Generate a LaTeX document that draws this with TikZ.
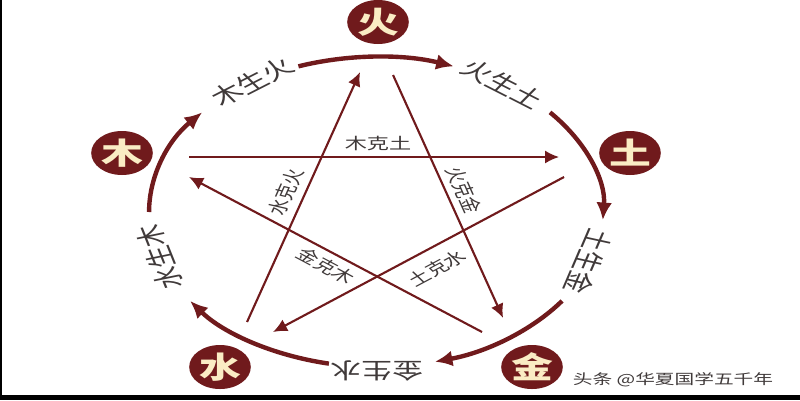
\documentclass[tikz,border=0pt]{standalone}
\usepackage{fontspec}
\newfontfamily\cjk{Noto Sans CJK SC}
\usetikzlibrary{arrows.meta,calc}
\definecolor{wxRed}{RGB}{112,26,28}
\definecolor{wxCream}{RGB}{250,236,196}
\definecolor{wxGray}{RGB}{64,58,58}

\begin{document}
\begin{tikzpicture}
[x=0.142857mm,y=0.2mm,xscale=1.4,transform shape,
element/.style={circle,minimum size=8.8mm,inner sep=0pt,fill=wxRed,text=wxCream,font=\cjk\bfseries\fontsize{17}{17}\selectfont},
cycleArc/.style={draw=wxRed,line width=2.5pt,-{Latex[length=10pt,width=9pt]}},
cycleLabel/.style={inner sep=1pt,text=wxGray,font=\cjk\fontsize{12.5}{13}\selectfont},
starEdge/.style={draw=wxRed,line width=1.2pt,-{Latex[length=8pt,width=7.5pt]}},
starLabel/.style={inner sep=1pt,text=wxGray,font=\cjk\fontsize{9}{9}\selectfont},
markText/.style={inner sep=1pt,text=wxGray,font=\cjk\fontsize{8}{8}\selectfont},
]
\useasboundingbox (0,0) rectangle (800,400);
\fill[black] (0,0) rectangle (800,5);
\fill[black] (0,0) rectangle (2,400);
\coordinate (c) at (376,188);
% the five elements
\node[element] (huo) at (378,378) {火};
\node[element] (mu) at (122,247) {木};
\node[element] (tu) at (630,247) {土};
\node[element] (shui) at (220,33) {水};
\node[element] (jin) at (532,33) {金};
% generating cycle
\coordinate (ms) at ($(c)+(110:227 and 155)$);
\coordinate (hs) at ($(c)+(40:227 and 155)$);
\coordinate (ts) at ($(c)+(-35:227 and 155)$);
\coordinate (js) at ($(c)+(-102:227 and 155)$);
\coordinate (ss) at ($(c)+(180:227 and 155)$);
\draw[cycleArc] (ms) arc[start angle=110,end angle=70,x radius=227,y radius=155];
\draw[cycleArc] (hs) arc[start angle=40,end angle=-3,x radius=227,y radius=155];
\draw[cycleArc] (ts) arc[start angle=-35,end angle=-75,x radius=227,y radius=155];
\draw[cycleArc] (js) arc[start angle=-102,end angle=-145,x radius=227,y radius=155];
\draw[cycleArc] (ss) arc[start angle=180,end angle=140,x radius=227,y radius=155];
\node[cycleLabel,rotate=35.5] (lmh) at (252,318) {木生火};
\node[cycleLabel,rotate=-35.5] (lht) at (503,316) {火生土};
\node[cycleLabel,rotate=-107] (ltj) at (589,138) {土生金};
\node[cycleLabel,rotate=180] (ljs) at (377,29) {金生水};
\node[cycleLabel,rotate=106] (lsm) at (160,143) {水生木};
% overcoming cycle
\coordinate (mkS) at (189,243);
\coordinate (mkE) at (559,243);
\coordinate (tkS) at (564,223);
\coordinate (tkE) at (273,68);
\coordinate (skS) at (247,78);
\coordinate (skE) at (360,328);
\coordinate (hkS) at (393,325);
\coordinate (hkE) at (503,82);
\coordinate (jkS) at (482,68);
\coordinate (jkE) at (189,223);
\draw[starEdge] (mkS) -- (mkE);
\draw[starEdge] (tkS) -- (tkE);
\draw[starEdge] (skS) -- (skE);
\draw[starEdge] (hkS) -- (hkE);
\draw[starEdge] (jkS) -- (jkE);
\node[starLabel] (lmk) at (378,257) {木克土};
\node[starLabel,rotate=72.4] (lsk) at (286,208) {水克火};
\node[starLabel,rotate=-72.4] (lhk) at (464,210) {火克金};
\node[starLabel,rotate=-36.7] (ljk) at (326,134) {金克木};
\node[starLabel,rotate=36.7] (ltk) at (437,132) {土克水};
\node[markText] (wm) at (673,20) {头条 @华夏国学五千年};
\end{tikzpicture}
\end{document}
